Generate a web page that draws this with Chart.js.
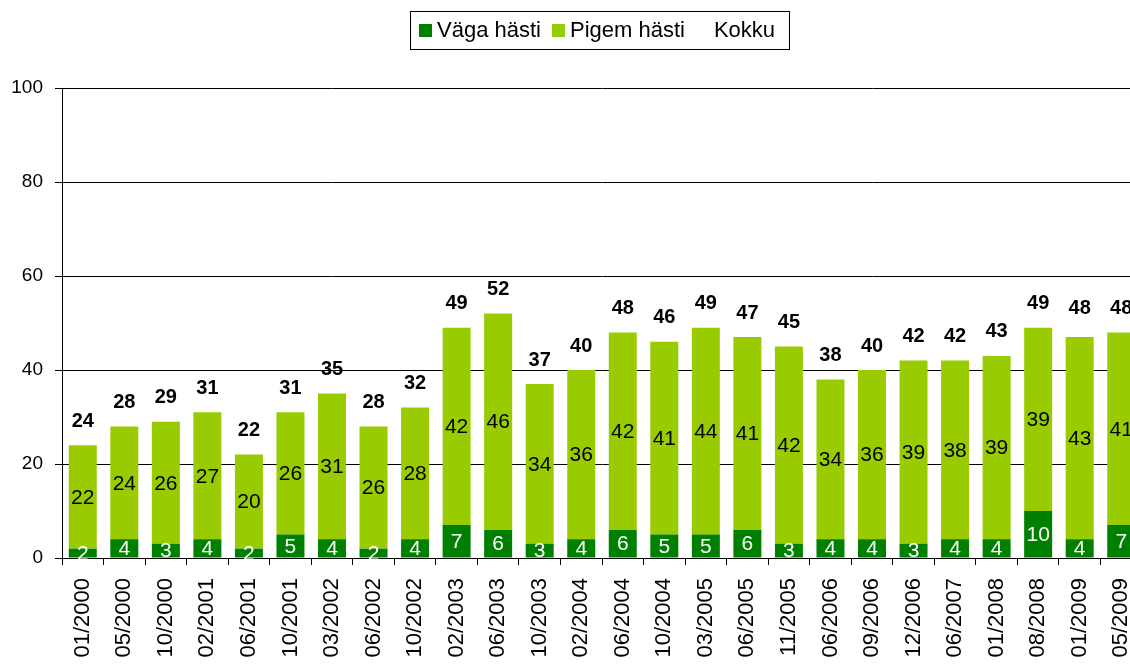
<!DOCTYPE html>
<html lang="et">
<head>
<meta charset="utf-8">
<title>Väga hästi / Pigem hästi</title>
<script src="https://cdn.jsdelivr.net/npm/chart.js@4/dist/chart.umd.min.js"></script>
<style>
  html, body { margin: 0; padding: 0; background: #fff; overflow: hidden; }
  #wrap { position: relative; width: 1130px; height: 664px; overflow: hidden; }
  #chart { display: block; }
</style>
</head>
<body>
<div id="wrap"><canvas id="chart" width="1150" height="664"></canvas></div>
<script>
// Survey periods
const periods = ['01/2000','05/2000','10/2000','02/2001','06/2001','10/2001','03/2002','06/2002',
  '10/2002','02/2003','06/2003','10/2003','02/2004','06/2004','10/2004','03/2005','06/2005',
  '11/2005','06/2006','09/2006','12/2006','06/2007','01/2008','08/2008','01/2009','05/2009'];

// Share of answers, %
const vagaHasti  = [2,4,3,4,2,5,4,2,4,7,6,3,4,6,5,5,6,3,4,4,3,4,4,10,4,7];
const pigemHasti = [22,24,26,27,20,26,31,26,28,42,46,34,36,42,41,44,41,42,34,36,39,38,39,39,43,41];
const kokku      = [24,28,29,31,22,31,35,28,32,49,52,37,40,48,46,49,47,45,38,40,42,42,43,49,48,48];

const yTicks = [0, 20, 40, 60, 80, 100];

const DARK = '#008000';
const LIGHT = '#99CC00';
const FONT = '"Liberation Sans", Arial, sans-serif';

// Value labels inside the bars and totals above them
const valueLabels = {
  id: 'valueLabels',
  afterDatasetsDraw(chart) {
    const ctx = chart.ctx;
    ctx.save();
    ctx.textAlign = 'center';
    ctx.textBaseline = 'middle';
    chart.data.datasets.forEach((ds, di) => {
      const meta = chart.getDatasetMeta(di);
      meta.data.forEach((el, i) => {
        const v = ds.data[i];
        if (ds.type === 'line') {
          ctx.font = 'bold 20px ' + FONT;
          ctx.fillStyle = '#000';
          ctx.fillText(String(v), el.x, el.y - 24);
        } else {
          ctx.font = '21px ' + FONT;
          ctx.fillStyle = di === 0 ? '#fff' : '#000';
          ctx.fillText(String(v), el.x, (el.y + el.base) / 2 + 1);
        }
      });
    });
    ctx.restore();
  }
};

// Framed legend row above the plot
const boxedLegend = {
  id: 'boxedLegend',
  afterDraw(chart, args, opts) {
    const ctx = chart.ctx;
    ctx.save();
    ctx.font = opts.fontSize + 'px ' + FONT;
    ctx.textBaseline = 'alphabetic';
    ctx.fillStyle = '#fff';
    ctx.fillRect(opts.left, opts.top, opts.right - opts.left, opts.bottom - opts.top);
    ctx.strokeStyle = '#000';
    ctx.lineWidth = 1;
    ctx.strokeRect(opts.left + 0.5, opts.top + 0.5, opts.right - opts.left, opts.bottom - opts.top);
    let x = opts.left + opts.padding;
    chart.data.datasets.forEach(ds => {
      const color = ds.type === 'line' ? null : ds.backgroundColor;
      if (color) {
        ctx.fillStyle = color;
        ctx.fillRect(x, opts.boxTop, opts.box, opts.box);
      }
      x += opts.box + opts.gap;
      ctx.fillStyle = '#000';
      ctx.fillText(ds.label, x, opts.baseline);
      x += ctx.measureText(ds.label).width + opts.itemGap;
    });
    ctx.restore();
  }
};

new Chart(document.getElementById('chart'), {
  type: 'bar',
  data: {
    labels: periods,
    datasets: [
      { label: 'Väga hästi', data: vagaHasti, backgroundColor: DARK, stack: 'bars',
        categoryPercentage: 1, barPercentage: 0.674, order: 2 },
      { label: 'Pigem hästi', data: pigemHasti, backgroundColor: LIGHT, stack: 'bars',
        categoryPercentage: 1, barPercentage: 0.674, order: 2 },
      { label: 'Kokku', type: 'line', data: kokku, stack: 'total', showLine: false,
        pointRadius: 0, pointHoverRadius: 0, borderColor: 'rgba(0,0,0,0)',
        backgroundColor: 'rgba(0,0,0,0)', order: 1 }
    ]
  },
  options: {
    responsive: false,
    animation: false,
    events: [],
    layout: { padding: { top: 88, right: 8, left: 0, bottom: 0 } },
    plugins: {
      legend: { display: false },
      tooltip: { enabled: false },
      boxedLegend: {
        left: 410, top: 11, right: 789, bottom: 49,
        padding: 9, box: 13, boxTop: 24, gap: 5, itemGap: 11,
        baseline: 37, fontSize: 22
      }
    },
    scales: {
      x: {
        stacked: true,
        offset: true,
        grid: { display: true, drawOnChartArea: false, offset: true,
                color: '#000', tickLength: 7, lineWidth: 1 },
        border: { display: true, color: '#000', width: 1 },
        ticks: { autoSkip: false, minRotation: 90, maxRotation: 90, padding: 13,
                 color: '#000', font: { family: FONT, size: 22 } },
        afterFit(scale) {
          scale.height = 106;
          scale.paddingLeft = 0;
          scale.paddingRight = 0;
        }
      },
      y: {
        stacked: true,
        min: 0,
        max: 100,
        afterBuildTicks(scale) { scale.ticks = yTicks.map(v => ({ value: v })); },
        grid: { color: '#000', tickLength: 7, lineWidth: 1 },
        border: { display: true, color: '#000', width: 1 },
        ticks: { padding: 12, color: '#000', font: { family: FONT, size: 19 } },
        afterFit(scale) { scale.width = 62; }
      }
    }
  },
  plugins: [valueLabels, boxedLegend]
});
</script>
</body>
</html>
